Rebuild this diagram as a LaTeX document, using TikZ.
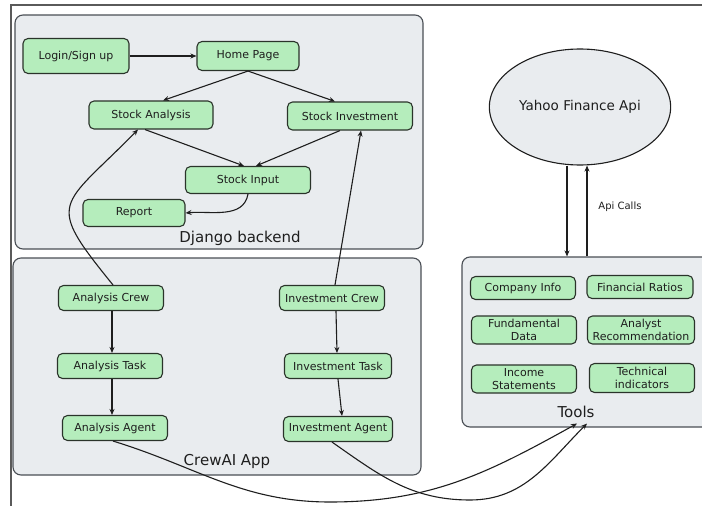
\documentclass[tikz,border=0pt]{standalone}
\usepackage{fontspec}
\setmainfont{DejaVu Sans}
\usetikzlibrary{arrows.meta,shapes.geometric}
\definecolor{panelfill}{HTML}{E9ECEF}
\definecolor{panelline}{HTML}{4A4F55}
\definecolor{boxfill}{HTML}{B5EDBC}
\definecolor{boxline}{HTML}{2A332A}
\definecolor{inkc}{HTML}{1E1E1E}
\definecolor{framec}{HTML}{5A5A5A}
\tikzset{
  panel/.style={draw=panelline, fill=panelfill, line width=1.1pt, rounded corners=8pt, inner sep=0pt},
  gbox/.style={draw=boxline, fill=boxfill, line width=1.1pt, rounded corners=5pt, inner sep=1pt,
    align=center, text=inkc, font=\fontsize{11}{12.5}\selectfont},
  plabel/.style={text=inkc, font=\fontsize{15}{16}\selectfont, inner sep=1pt},
  arr/.style={draw=inkc, line width=1.1pt, -{Stealth[length=6pt,width=5pt]}},
}
\begin{document}
\begin{tikzpicture}[x=1pt,y=-1pt]
\useasboundingbox (0,0) rectangle (702,506);
\clip (0,0) rectangle (702,506);
\fill[white] (0,0) rectangle (702,506);
% frame
\draw[framec, line width=1.5pt] (11,506) -- (11,5) -- (702,5);
% panels
\node[panel, minimum width=408pt, minimum height=234pt] (django) at (219,132) {};
\node[panel, minimum width=408pt, minimum height=217pt] (crew) at (217,366.5) {};
\node[panel, minimum width=250pt, minimum height=170pt] (tools) at (587,342) {};
\node[plabel] (djlabel) at (240,238) {Django backend};
\node[plabel] (crlabel) at (227,461) {CrewAI App};
\node[plabel] (tlabel) at (576,412) {Tools};
% yahoo
\node[ellipse, draw=inkc, fill=panelfill, line width=1.1pt, minimum width=154pt, minimum height=116pt,
  text=inkc, font=\fontsize{13.5}{15}\selectfont] (yahoo) at (580,107) {Yahoo Finance Api};
% django nodes
\node[gbox, minimum width=106pt, minimum height=35pt] (login) at (76,56) {Login/Sign up};
\node[gbox, minimum width=102pt, minimum height=29pt] (home) at (248,56) {Home Page};
\node[gbox, minimum width=124pt, minimum height=28pt] (sa) at (151,115) {Stock Analysis};
\node[gbox, minimum width=125pt, minimum height=28pt] (si) at (350,116) {Stock Investment};
\node[gbox, minimum width=125pt, minimum height=27pt] (sinput) at (248,180) {Stock Input};
\node[gbox, minimum width=102pt, minimum height=27pt] (report) at (134,213) {Report};
% crew nodes
\node[gbox, minimum width=105pt, minimum height=25pt] (ac) at (111,298) {Analysis Crew};
\node[gbox, minimum width=105pt, minimum height=25pt] (at) at (110,366) {Analysis Task};
\node[gbox, minimum width=105pt, minimum height=25pt] (aag) at (115,428) {Analysis Agent};
\node[gbox, minimum width=105pt, minimum height=25pt] (ic) at (332,298) {Investment Crew};
\node[gbox, minimum width=107pt, minimum height=25pt] (it) at (338,366) {Investment Task};
\node[gbox, minimum width=109pt, minimum height=25pt] (iag) at (338,429) {Investment Agent};
% tool nodes
\node[gbox, minimum width=105pt, minimum height=23pt] (ci) at (523,288) {Company Info};
\node[gbox, minimum width=106pt, minimum height=23pt] (fr) at (640,287) {Financial Ratios};
\node[gbox, minimum width=105pt, minimum height=28pt] (fd) at (524,330) {Fundamental\\Data};
\node[gbox, minimum width=107pt, minimum height=28pt] (ar) at (641,330) {Analyst\\Recommendation};
\node[gbox, minimum width=105pt, minimum height=28pt] (is) at (524,379) {Income\\Statements};
\node[gbox, minimum width=105pt, minimum height=29pt] (ti) at (642,378) {Technical\\indicators};
% api label
\node[text=inkc, font=\fontsize{10}{11}\selectfont] (apil) at (620,207) {Api Calls};
% django arrows
\draw[arr] (login.east) -- (home.west);
\draw[arr] (home.south) -- ([xshift=12pt]sa.north);
\draw[arr] (home.south) -- ([xshift=-15pt]si.north);
\draw[arr] ([xshift=-6pt]sa.south) -- ([xshift=-4pt]sinput.north);
\draw[arr] ([xshift=-10pt]si.south) -- ([xshift=8pt]sinput.north);
\draw[arr] (sinput.south) to[out=-100,in=5] (report.east);
% crew to django
\draw[arr] ([xshift=2pt]ac.north) .. controls (44,200) and (60,209) .. ([xshift=-13pt]sa.south);
\draw[arr] ([xshift=3pt]ic.north) -- ([xshift=11pt]si.south);
% crew arrows
\draw[arr] ([xshift=1pt]ac.south) -- ([xshift=2pt]at.north);
\draw[arr] ([xshift=2pt]at.south) -- ([xshift=2pt]at.south |- aag.north);
\draw[arr] ([xshift=4pt]ic.south) -- ([xshift=-1pt]it.north);
\draw[arr] (it.south) -- ([xshift=4pt]iag.north);
% agents to tools
\coordinate (m1) at (330,502);
\coordinate (m2) at (470,500);
\draw[arr] ([xshift=-2pt]aag.south) to[out=-17,in=180] (m1) to[out=0,in=209] ([xshift=-10pt,yshift=4pt]tools.south);
\draw[arr] ([xshift=-6pt]iag.south) to[out=-35,in=180] (m2) to[out=0,in=225] ([yshift=4pt]tools.south);
% api arrows
\draw[arr] ([xshift=-13pt]yahoo.south) -- ([xshift=-13pt]yahoo.south |- tools.north);
\draw[arr] ([xshift=7pt]yahoo.south |- tools.north) -- ([xshift=7pt]yahoo.south);
\end{tikzpicture}
\end{document}
